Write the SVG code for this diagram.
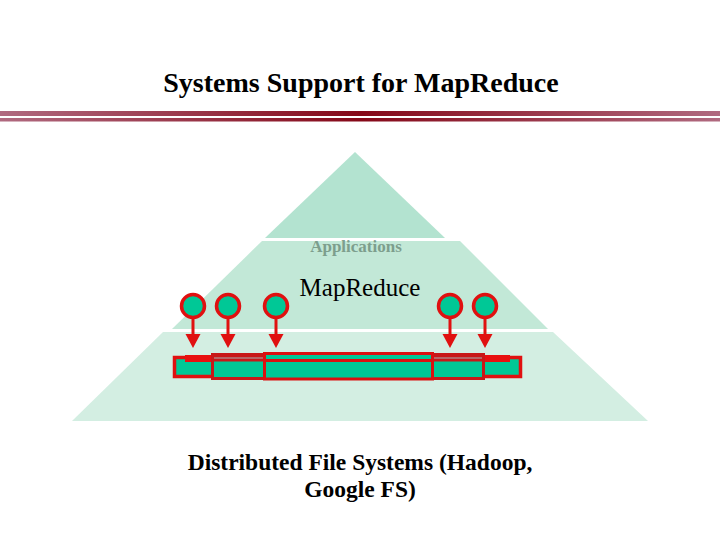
<svg xmlns="http://www.w3.org/2000/svg" width="720" height="540" viewBox="0 0 720 540">
<style>
.title{font-family:"Liberation Serif","Times New Roman",serif;font-weight:bold;fill:#000}
.node circle{fill:#00c896;stroke:#e01010;stroke-width:3.5}
.conn line{stroke:#e01010;stroke-width:3}
.conn polygon{fill:#e01010}
</style>
<defs>
<linearGradient id="hg" x1="0" y1="0" x2="1" y2="0">
<stop offset="0" stop-color="#b06a80"/>
<stop offset="0.5" stop-color="#850818"/>
<stop offset="1" stop-color="#b06a80"/>
</linearGradient>
</defs>
<rect width="720" height="540" fill="#fff"/>
<text class="title" x="361" y="92" font-size="28" text-anchor="middle">Systems Support for MapReduce</text>
<rect x="0" y="111" width="720" height="5" fill="url(#hg)"/>
<rect x="0" y="118" width="720" height="3.5" fill="url(#hg)"/>

<g id="pyramid">
<polygon points="355,152 445,238 265,238" fill="#b3e3d0"/>
<polygon points="262,241 460,241 548,329 172,329" fill="#c2e8d7"/>
<polygon points="163,332 553,332 648,421 72,421" fill="#d3eee2"/>
</g>
<g id="applications"><text x="356" y="252" font-family="Liberation Serif, serif" font-weight="bold" font-size="17" fill="#7d9e8d" text-anchor="middle">Applications</text></g>
<g id="mapreduce-label"><text x="360" y="296" font-family="Liberation Serif, serif" font-size="25" fill="#000" text-anchor="middle">MapReduce</text></g>

<g id="storage">
<rect x="174.5" y="357.5" width="346" height="19" fill="#00c896" stroke="#e01010" stroke-width="3.5"/>
<rect x="185" y="355" width="325" height="7" fill="#e81010"/>
<rect x="212.5" y="354.5" width="271" height="24" fill="#00c896" stroke="#c81818" stroke-width="3"/>
<rect x="212.5" y="354.5" width="271" height="7" fill="#c81818"/>
<line x1="214" y1="358" x2="482" y2="358" stroke="#b08080" stroke-width="1.5"/>
<rect x="264.5" y="353.5" width="168" height="25.5" fill="#00c896" stroke="#dc1010" stroke-width="3"/>
<line x1="265" y1="360.5" x2="432" y2="360.5" stroke="#dc1010" stroke-width="3"/>
</g>

<g id="n1" class="node"><circle cx="193" cy="306" r="11.5"/></g>
<g id="n2" class="node"><circle cx="228" cy="306" r="11.5"/></g>
<g id="n3" class="node"><circle cx="276" cy="306" r="11.5"/></g>
<g id="n4" class="node"><circle cx="450" cy="306" r="11.5"/></g>
<g id="n5" class="node"><circle cx="485" cy="306" r="11.5"/></g>

<g id="connectors" class="conn">
<line x1="193" y1="319" x2="193" y2="336"/><polygon points="185.5,334 200.5,334 193,348"/>
<line x1="228" y1="319" x2="228" y2="336"/><polygon points="220.5,334 235.5,334 228,348"/>
<line x1="276" y1="319" x2="276" y2="336"/><polygon points="268.5,334 283.5,334 276,348"/>
<line x1="450" y1="319" x2="450" y2="336"/><polygon points="442.5,334 457.5,334 450,348"/>
<line x1="485" y1="319" x2="485" y2="336"/><polygon points="477.5,334 492.5,334 485,348"/>
</g>

<g id="dfs-label">
<text class="title" x="360" y="470" font-size="23.5" text-anchor="middle">Distributed File Systems (Hadoop,</text>
<text class="title" x="360" y="497" font-size="23.5" text-anchor="middle">Google FS)</text>
</g>
</svg>
